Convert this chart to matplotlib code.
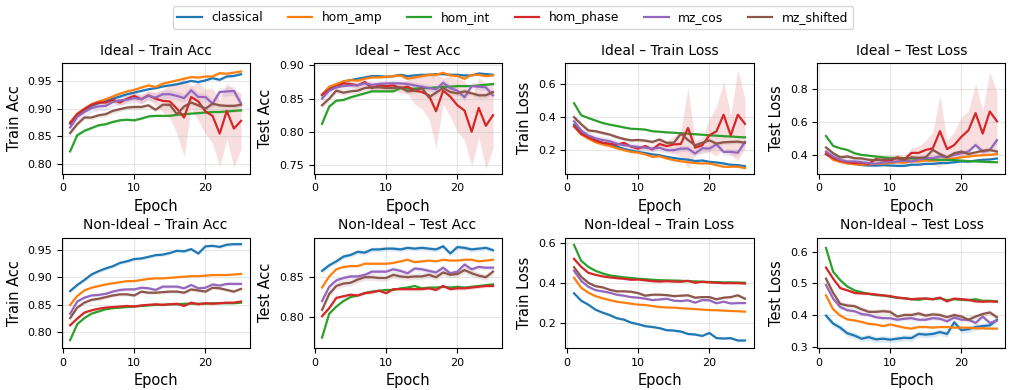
import matplotlib
matplotlib.use("Agg")
import matplotlib.pyplot as plt
import numpy as np

epochs = np.arange(1, 26)
models = ["classical", "hom_amp", "hom_int", "hom_phase", "mz_cos", "mz_shifted"]
colors = ["#1f77b4", "#ff7f0e", "#2ca02c", "#d62728", "#9467bd", "#8c564b"]

# ---- Ideal: mean curves ----
ideal_train_acc = {
    "classical": [0.873, 0.888, 0.897, 0.905, 0.910, 0.914, 0.918, 0.922, 0.926, 0.929, 0.932, 0.935, 0.937,
                  0.940, 0.942, 0.944, 0.947, 0.950, 0.948, 0.951, 0.955, 0.952, 0.958, 0.959, 0.962],
    "hom_amp": [0.875, 0.891, 0.900, 0.908, 0.913, 0.917, 0.922, 0.927, 0.931, 0.934, 0.938, 0.942, 0.939,
                0.945, 0.948, 0.951, 0.954, 0.957, 0.956, 0.958, 0.958, 0.964, 0.963, 0.965, 0.967],
    "hom_int": [0.823, 0.852, 0.860, 0.865, 0.870, 0.872, 0.876, 0.879, 0.880, 0.879, 0.882, 0.886, 0.887,
                0.887, 0.887, 0.889, 0.890, 0.891, 0.892, 0.893, 0.894, 0.894, 0.895, 0.896, 0.897],
    "hom_phase": [0.874, 0.890, 0.899, 0.907, 0.911, 0.911, 0.916, 0.911, 0.918, 0.923, 0.917, 0.924, 0.918,
                  0.914, 0.913, 0.900, 0.884, 0.921, 0.913, 0.895, 0.887, 0.855, 0.896, 0.864, 0.878],
    "mz_cos": [0.866, 0.885, 0.894, 0.901, 0.904, 0.905, 0.912, 0.915, 0.916, 0.919, 0.917, 0.923, 0.920,
               0.926, 0.926, 0.923, 0.919, 0.933, 0.921, 0.921, 0.909, 0.930, 0.931, 0.932, 0.909],
    "mz_shifted": [0.856, 0.872, 0.884, 0.884, 0.888, 0.890, 0.896, 0.899, 0.902, 0.903, 0.903, 0.906, 0.898,
                   0.907, 0.907, 0.890, 0.904, 0.911, 0.906, 0.900, 0.909, 0.906, 0.905, 0.905, 0.907],
}
ideal_test_acc = {
    "classical": [0.855, 0.866, 0.871, 0.876, 0.878, 0.880, 0.882, 0.884, 0.884, 0.883, 0.884, 0.886, 0.884,
                  0.885, 0.886, 0.886, 0.887, 0.887, 0.886, 0.886, 0.885, 0.885, 0.888, 0.887, 0.886],
    "hom_amp": [0.856, 0.868, 0.872, 0.876, 0.878, 0.877, 0.880, 0.882, 0.882, 0.883, 0.884, 0.885, 0.880,
                0.882, 0.884, 0.886, 0.886, 0.889, 0.885, 0.884, 0.880, 0.886, 0.886, 0.884, 0.885],
    "hom_int": [0.812, 0.838, 0.847, 0.848, 0.852, 0.855, 0.858, 0.861, 0.861, 0.861, 0.861, 0.866, 0.865,
                0.865, 0.866, 0.866, 0.867, 0.868, 0.868, 0.869, 0.869, 0.869, 0.870, 0.871, 0.872],
    "hom_phase": [0.856, 0.864, 0.868, 0.873, 0.872, 0.870, 0.875, 0.866, 0.870, 0.869, 0.870, 0.866, 0.868,
                  0.862, 0.860, 0.855, 0.831, 0.862, 0.853, 0.840, 0.832, 0.800, 0.836, 0.809, 0.825],
    "mz_cos": [0.850, 0.862, 0.867, 0.869, 0.870, 0.870, 0.873, 0.871, 0.872, 0.873, 0.873, 0.873, 0.872,
               0.870, 0.868, 0.866, 0.864, 0.874, 0.866, 0.862, 0.852, 0.869, 0.868, 0.867, 0.855],
    "mz_shifted": [0.840, 0.850, 0.862, 0.859, 0.861, 0.862, 0.866, 0.867, 0.867, 0.866, 0.866, 0.867, 0.861,
                   0.862, 0.866, 0.852, 0.859, 0.866, 0.860, 0.858, 0.861, 0.858, 0.855, 0.855, 0.860],
}
ideal_train_loss = {
    "classical": [0.355, 0.305, 0.280, 0.260, 0.245, 0.233, 0.222, 0.208, 0.198, 0.190, 0.183, 0.175, 0.170,
                  0.160, 0.153, 0.147, 0.143, 0.135, 0.138, 0.130, 0.126, 0.120, 0.112, 0.110, 0.103],
    "hom_amp": [0.345, 0.295, 0.270, 0.248, 0.235, 0.225, 0.212, 0.200, 0.190, 0.185, 0.175, 0.160, 0.163,
                0.150, 0.140, 0.133, 0.128, 0.122, 0.120, 0.120, 0.110, 0.100, 0.100, 0.100, 0.092],
    "hom_int": [0.485, 0.412, 0.395, 0.380, 0.365, 0.355, 0.347, 0.338, 0.330, 0.328, 0.325, 0.315, 0.312,
                0.308, 0.306, 0.303, 0.300, 0.297, 0.294, 0.290, 0.288, 0.285, 0.283, 0.280, 0.278],
    "hom_phase": [0.345, 0.300, 0.278, 0.258, 0.245, 0.240, 0.233, 0.245, 0.222, 0.210, 0.225, 0.205, 0.238,
                  0.225, 0.235, 0.238, 0.335, 0.215, 0.230, 0.290, 0.315, 0.415, 0.290, 0.415, 0.360],
    "mz_cos": [0.375, 0.320, 0.290, 0.272, 0.262, 0.255, 0.240, 0.230, 0.225, 0.220, 0.215, 0.210, 0.215,
               0.200, 0.200, 0.210, 0.210, 0.180, 0.212, 0.210, 0.235, 0.190, 0.190, 0.185, 0.250],
    "mz_shifted": [0.400, 0.358, 0.320, 0.315, 0.305, 0.295, 0.280, 0.268, 0.260, 0.262, 0.258, 0.250, 0.265,
                   0.245, 0.245, 0.300, 0.262, 0.230, 0.245, 0.260, 0.240, 0.248, 0.250, 0.252, 0.245],
}
ideal_test_loss = {
    "classical": [0.405, 0.375, 0.360, 0.350, 0.345, 0.338, 0.335, 0.335, 0.337, 0.335, 0.333, 0.333, 0.340,
                  0.340, 0.345, 0.345, 0.350, 0.350, 0.355, 0.360, 0.358, 0.365, 0.370, 0.372, 0.378],
    "hom_amp": [0.410, 0.370, 0.357, 0.348, 0.343, 0.340, 0.342, 0.345, 0.347, 0.350, 0.355, 0.352, 0.360,
                0.360, 0.365, 0.365, 0.368, 0.372, 0.378, 0.385, 0.390, 0.395, 0.398, 0.400, 0.405],
    "hom_int": [0.515, 0.455, 0.440, 0.430, 0.410, 0.400, 0.395, 0.390, 0.385, 0.382, 0.382, 0.380, 0.378,
                0.375, 0.375, 0.372, 0.370, 0.368, 0.368, 0.365, 0.362, 0.360, 0.358, 0.356, 0.355],
    "hom_phase": [0.405, 0.380, 0.365, 0.355, 0.350, 0.350, 0.345, 0.375, 0.365, 0.362, 0.385, 0.372, 0.412,
                  0.412, 0.430, 0.440, 0.545, 0.435, 0.460, 0.510, 0.550, 0.655, 0.530, 0.665, 0.605],
    "mz_cos": [0.420, 0.390, 0.370, 0.360, 0.360, 0.355, 0.350, 0.345, 0.355, 0.355, 0.360, 0.365, 0.360,
               0.370, 0.380, 0.380, 0.390, 0.385, 0.400, 0.410, 0.420, 0.460, 0.420, 0.430, 0.490],
    "mz_shifted": [0.445, 0.410, 0.385, 0.390, 0.380, 0.378, 0.370, 0.368, 0.372, 0.375, 0.378, 0.370, 0.385,
                   0.382, 0.385, 0.430, 0.405, 0.385, 0.410, 0.420, 0.405, 0.415, 0.425, 0.430, 0.420],
}

# ---- Non-ideal: mean curves ----
nonideal_train_acc = {
    "classical": [0.875, 0.886, 0.895, 0.905, 0.911, 0.916, 0.920, 0.926, 0.929, 0.933, 0.934, 0.937, 0.940,
                  0.941, 0.944, 0.948, 0.947, 0.951, 0.943, 0.956, 0.957, 0.955, 0.959, 0.960, 0.960],
    "hom_amp": [0.850, 0.866, 0.876, 0.881, 0.884, 0.887, 0.889, 0.891, 0.893, 0.893, 0.895, 0.897, 0.898,
                0.898, 0.899, 0.900, 0.901, 0.902, 0.902, 0.903, 0.904, 0.904, 0.904, 0.905, 0.906],
    "hom_int": [0.786, 0.815, 0.826, 0.834, 0.838, 0.842, 0.844, 0.845, 0.846, 0.847, 0.848, 0.849, 0.850,
                0.850, 0.851, 0.851, 0.852, 0.852, 0.852, 0.852, 0.853, 0.853, 0.853, 0.853, 0.854],
    "hom_phase": [0.813, 0.825, 0.836, 0.840, 0.843, 0.845, 0.846, 0.847, 0.848, 0.847, 0.849, 0.850, 0.851,
                  0.850, 0.851, 0.852, 0.848, 0.854, 0.851, 0.853, 0.852, 0.853, 0.854, 0.854, 0.856],
    "mz_cos": [0.834, 0.856, 0.863, 0.867, 0.868, 0.870, 0.874, 0.877, 0.878, 0.878, 0.881, 0.880, 0.877,
               0.883, 0.883, 0.883, 0.880, 0.886, 0.880, 0.881, 0.887, 0.885, 0.888, 0.888, 0.888],
    "mz_shifted": [0.826, 0.845, 0.854, 0.859, 0.861, 0.864, 0.867, 0.869, 0.869, 0.867, 0.874, 0.872, 0.872,
                   0.873, 0.874, 0.874, 0.872, 0.878, 0.876, 0.874, 0.881, 0.880, 0.877, 0.874, 0.879],
}
nonideal_test_acc = {
    "classical": [0.858, 0.865, 0.870, 0.876, 0.878, 0.882, 0.881, 0.885, 0.885, 0.886, 0.886, 0.885, 0.887,
                  0.886, 0.887, 0.886, 0.885, 0.889, 0.880, 0.888, 0.887, 0.885, 0.886, 0.887, 0.884],
    "hom_amp": [0.837, 0.851, 0.860, 0.863, 0.864, 0.864, 0.867, 0.867, 0.867, 0.867, 0.868, 0.870, 0.872,
                0.869, 0.870, 0.871, 0.870, 0.872, 0.871, 0.871, 0.872, 0.872, 0.870, 0.871, 0.872],
    "hom_int": [0.774, 0.804, 0.813, 0.820, 0.825, 0.827, 0.830, 0.832, 0.833, 0.834, 0.834, 0.836, 0.837,
                0.839, 0.836, 0.837, 0.837, 0.838, 0.837, 0.838, 0.837, 0.838, 0.839, 0.840, 0.841],
    "hom_phase": [0.801, 0.811, 0.824, 0.826, 0.828, 0.827, 0.830, 0.831, 0.833, 0.830, 0.835, 0.835, 0.835,
                  0.835, 0.835, 0.836, 0.834, 0.839, 0.835, 0.836, 0.836, 0.837, 0.838, 0.839, 0.839],
    "mz_cos": [0.820, 0.838, 0.846, 0.849, 0.851, 0.851, 0.853, 0.857, 0.857, 0.857, 0.860, 0.858, 0.855,
               0.861, 0.860, 0.858, 0.856, 0.862, 0.855, 0.857, 0.866, 0.860, 0.863, 0.862, 0.862],
    "mz_shifted": [0.809, 0.829, 0.839, 0.842, 0.843, 0.847, 0.850, 0.850, 0.849, 0.849, 0.853, 0.851, 0.850,
                   0.851, 0.851, 0.853, 0.850, 0.856, 0.853, 0.854, 0.859, 0.855, 0.852, 0.850, 0.857],
}
nonideal_train_loss = {
    "classical": [0.347, 0.310, 0.290, 0.265, 0.250, 0.238, 0.222, 0.215, 0.200, 0.192, 0.182, 0.178, 0.172,
                  0.162, 0.160, 0.155, 0.143, 0.140, 0.133, 0.148, 0.122, 0.120, 0.122, 0.110, 0.110],
    "hom_amp": [0.425, 0.375, 0.350, 0.333, 0.322, 0.313, 0.305, 0.300, 0.295, 0.290, 0.288, 0.283, 0.278,
                0.276, 0.275, 0.272, 0.270, 0.268, 0.265, 0.263, 0.262, 0.260, 0.258, 0.257, 0.255],
    "hom_int": [0.590, 0.510, 0.480, 0.460, 0.447, 0.437, 0.432, 0.427, 0.424, 0.420, 0.418, 0.415, 0.413,
                0.412, 0.411, 0.410, 0.408, 0.407, 0.405, 0.404, 0.403, 0.402, 0.402, 0.401, 0.400],
    "hom_phase": [0.520, 0.480, 0.450, 0.440, 0.432, 0.427, 0.423, 0.420, 0.415, 0.416, 0.412, 0.408, 0.406,
                  0.408, 0.406, 0.405, 0.410, 0.400, 0.405, 0.402, 0.400, 0.398, 0.398, 0.398, 0.396],
    "mz_cos": [0.460, 0.410, 0.380, 0.363, 0.357, 0.350, 0.340, 0.335, 0.328, 0.325, 0.320, 0.313, 0.316,
               0.320, 0.310, 0.308, 0.312, 0.300, 0.313, 0.312, 0.297, 0.305, 0.296, 0.298, 0.298],
    "mz_shifted": [0.478, 0.430, 0.400, 0.383, 0.377, 0.365, 0.357, 0.357, 0.355, 0.348, 0.335, 0.340, 0.340,
                   0.338, 0.333, 0.335, 0.337, 0.325, 0.328, 0.328, 0.317, 0.325, 0.328, 0.337, 0.320],
}
nonideal_test_loss = {
    "classical": [0.398, 0.373, 0.360, 0.342, 0.335, 0.325, 0.330, 0.323, 0.325, 0.322, 0.325, 0.328, 0.327,
                  0.340, 0.338, 0.340, 0.346, 0.340, 0.377, 0.352, 0.355, 0.362, 0.365, 0.367, 0.385],
    "hom_amp": [0.462, 0.418, 0.398, 0.386, 0.383, 0.378, 0.372, 0.370, 0.365, 0.370, 0.365, 0.360, 0.357,
                0.362, 0.362, 0.360, 0.362, 0.362, 0.360, 0.360, 0.360, 0.358, 0.358, 0.357, 0.357],
    "hom_int": [0.612, 0.537, 0.510, 0.490, 0.478, 0.472, 0.467, 0.463, 0.462, 0.458, 0.455, 0.453, 0.450,
                0.448, 0.452, 0.450, 0.453, 0.447, 0.450, 0.448, 0.447, 0.450, 0.445, 0.445, 0.443],
    "hom_phase": [0.550, 0.515, 0.485, 0.478, 0.470, 0.468, 0.467, 0.465, 0.462, 0.460, 0.455, 0.453, 0.450,
                  0.452, 0.452, 0.450, 0.455, 0.443, 0.452, 0.450, 0.448, 0.443, 0.442, 0.443, 0.442],
    "mz_cos": [0.495, 0.452, 0.425, 0.415, 0.412, 0.403, 0.400, 0.393, 0.390, 0.390, 0.385, 0.388, 0.390,
               0.385, 0.385, 0.390, 0.388, 0.380, 0.392, 0.385, 0.385, 0.375, 0.395, 0.375, 0.382],
    "mz_shifted": [0.515, 0.470, 0.435, 0.430, 0.428, 0.418, 0.410, 0.410, 0.412, 0.410, 0.395, 0.400, 0.400,
                   0.405, 0.398, 0.402, 0.400, 0.393, 0.400, 0.395, 0.385, 0.395, 0.403, 0.408, 0.393],
}

# ---- spread across seeds (std), read off the shaded bands ----
# hom_phase in the ideal setting blows up late in training, so it gets per-epoch values
ideal_phase_std = {
    "train_acc": [0.003, 0.003, 0.003, 0.004, 0.004, 0.005, 0.005, 0.006, 0.006, 0.007, 0.008, 0.008, 0.012,
                  0.020, 0.030, 0.045, 0.070, 0.020, 0.035, 0.040, 0.050, 0.060, 0.050, 0.070, 0.050],
    "test_acc": [0.003, 0.003, 0.003, 0.003, 0.004, 0.004, 0.005, 0.005, 0.006, 0.006, 0.007, 0.008, 0.010,
                 0.020, 0.025, 0.035, 0.055, 0.020, 0.030, 0.040, 0.045, 0.052, 0.045, 0.065, 0.050],
    "train_loss": [0.005, 0.005, 0.005, 0.006, 0.006, 0.007, 0.008, 0.010, 0.010, 0.012, 0.015, 0.015, 0.020,
                   0.030, 0.050, 0.080, 0.245, 0.040, 0.050, 0.100, 0.150, 0.200, 0.120, 0.275, 0.150],
    "test_loss": [0.005, 0.005, 0.005, 0.006, 0.006, 0.007, 0.008, 0.012, 0.012, 0.015, 0.020, 0.020, 0.030,
                  0.040, 0.060, 0.100, 0.220, 0.050, 0.080, 0.120, 0.120, 0.180, 0.140, 0.240, 0.180],
}
ideal_std = {
    "train_acc": [0.002, 0.002, 0.002, None, 0.008, 0.004],
    "test_acc": [0.002, 0.002, 0.002, None, 0.005, 0.004],
    "train_loss": [0.005, 0.004, 0.003, None, 0.020, 0.012],
    "test_loss": [0.006, 0.005, 0.004, None, 0.020, 0.012],
}
nonideal_std = {
    "train_acc": [0.003, 0.001, 0.001, 0.002, 0.003, 0.003],
    "test_acc": [0.003, 0.001, 0.001, 0.002, 0.003, 0.004],
    "train_loss": [0.006, 0.002, 0.003, 0.004, 0.005, 0.007],
    "test_loss": [0.010, 0.003, 0.003, 0.004, 0.006, 0.008],
}

panels = [
    ("Ideal – Train Acc", "Train Acc", ideal_train_acc, "train_acc", True, (0.783, 0.982), [0.80, 0.85, 0.90, 0.95]),
    ("Ideal – Test Acc", "Test Acc", ideal_test_acc, "test_acc", True, (0.737, 0.9035), [0.75, 0.80, 0.85, 0.90]),
    ("Ideal – Train Loss", "Train Loss", ideal_train_loss, "train_loss", True, (0.059, 0.727), [0.2, 0.4, 0.6]),
    ("Ideal – Test Loss", "Test Loss", ideal_test_loss, "test_loss", True, (0.286, 0.96), [0.4, 0.6, 0.8]),
    ("Non-Ideal – Train Acc", "Train Acc", nonideal_train_acc, "train_acc", False, (0.772, 0.972), [0.80, 0.85, 0.90, 0.95]),
    ("Non-Ideal – Test Acc", "Test Acc", nonideal_test_acc, "test_acc", False, (0.761, 0.90), [0.80, 0.85]),
    ("Non-Ideal – Train Loss", "Train Loss", nonideal_train_loss, "train_loss", False, (0.073, 0.627), [0.2, 0.4, 0.6]),
    ("Non-Ideal – Test Loss", "Test Loss", nonideal_test_loss, "test_loss", False, (0.296, 0.645), [0.3, 0.4, 0.5, 0.6]),
]

fig, axes = plt.subplots(2, 4, figsize=(10.26, 3.9), dpi=100)
for ax, (title, ylabel, data, key, ideal, ylim, yticks) in zip(axes.flat, panels):
    for i, m in enumerate(models):
        mean = np.array(data[m])
        if ideal and m == "hom_phase":
            std = np.array(ideal_phase_std[key])
        elif ideal:
            std = ideal_std[key][i]
        else:
            std = nonideal_std[key][i]
        ax.fill_between(epochs, mean - std, mean + std, color=colors[i], alpha=0.15, linewidth=0)
        ax.plot(epochs, mean, color=colors[i], linewidth=1.6, label=m)
    ax.set_title(title, fontsize=10)
    ax.set_xlabel("Epoch", fontsize=10.5)
    ax.set_ylabel(ylabel, fontsize=10.5)
    ax.set_ylim(*ylim)
    ax.set_yticks(yticks)
    ax.set_xticks([0, 10, 20])
    ax.tick_params(labelsize=8)
    ax.grid(True, alpha=0.3)

handles, labels = axes[0, 0].get_legend_handles_labels()
fig.legend(handles, labels, loc="upper center", ncol=6, fontsize=8.8, bbox_to_anchor=(0.5, 1.0))
fig.subplots_adjust(left=0.060, right=0.980, top=0.838, bottom=0.108, wspace=0.34, hspace=0.58)
fig.savefig("out.png", dpi=100)
